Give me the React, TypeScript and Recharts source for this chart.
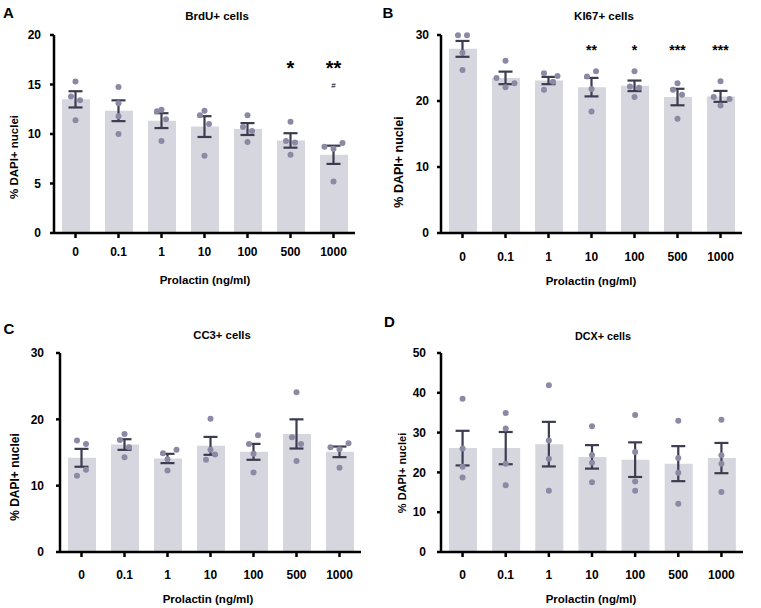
import React from "react";
import { ComposedChart, Bar, Scatter, XAxis, YAxis, ErrorBar } from "recharts";

// ---------- data ----------
const categories = ["0", "0.1", "1", "10", "100", "500", "1000"];

// A: BrdU+
const brduMean = [13.5, 12.35, 11.35, 10.75, 10.5, 9.35, 7.9];
const brduSem = [0.82, 1.05, 0.75, 1.05, 0.6, 0.73, 0.92];
const brduPoints = [
  [15.3, 13.8, 13.4, 11.4],
  [14.75, 13.1, 11.8, 10.0],
  [12.45, 12.3, 11.5, 9.3],
  [12.35, 11.9, 11.0, 7.8],
  [11.9, 10.7, 10.3, 9.2],
  [11.25, 9.3, 9.15, 7.9],
  [8.7, 9.1, 8.5, 5.2],
];
const brduJitter = [
  [0, -1, 1, 0],
  [0, 0, 0, 0],
  [0, -1, 1, 0],
  [0, -1, 1, 0],
  [0, -1, 1, 0],
  [0, -1, 1, 0],
  [-2, 2, 0, 0],
];
const brduStars = ["", "", "", "", "", "*", "**"];
const brduHash = ["", "", "", "", "", "", "#"];

// B: KI67+
const ki67Mean = [27.9, 23.5, 23.1, 22.1, 22.3, 20.6, 20.7];
const ki67Sem = [1.2, 0.95, 0.55, 1.4, 0.8, 1.25, 0.83];
const ki67Points = [
  [29.95, 29.95, 27.3, 24.7],
  [26.1, 23.5, 22.7, 22.1],
  [24.2, 23.8, 22.9, 21.7],
  [24.5, 23.7, 21.8, 18.4],
  [24.5, 22.2, 22.0, 20.6],
  [22.7, 21.7, 20.95, 17.3],
  [23.0, 20.6, 20.3, 19.3],
];
const ki67Jitter = [
  [-1, 1, 0, 0],
  [0, -2, 2, 0],
  [-1, 2, 1, -1],
  [1, -1, 0, 0],
  [0, -1, 1, 0],
  [0, -1, 1, 0],
  [0, -1.5, 2, 0],
];
const ki67Stars = ["", "", "", "**", "*", "***", "***"];

// C: CC3+
const cc3Mean = [14.2, 16.2, 14.1, 16.0, 15.1, 17.8, 15.1];
const cc3Sem = [1.35, 0.8, 0.7, 1.35, 1.2, 2.2, 0.8];
const cc3Points = [
  [16.8, 16.3, 12.4, 11.5],
  [17.8, 16.9, 15.8, 14.3],
  [14.9, 15.4, 14.0, 12.3],
  [20.1, 15.4, 14.7, 13.9],
  [17.6, 16.3, 14.8, 12.0],
  [24.1, 17.3, 16.3, 13.7],
  [15.8, 16.4, 15.5, 12.7],
];
const cc3Jitter = [
  [-1, 1, 1, -1],
  [0, -1, 1, 0],
  [-1, 2, 0, 0],
  [0, 0, 1, -1],
  [1, -1, 0, 0],
  [0, -1, 1, 0],
  [-2, 2, 0, 0],
];

// D: DCX+
const dcxMean = [26.1, 26.1, 27.1, 23.9, 23.2, 22.2, 23.6];
const dcxSem = [4.35, 4.05, 5.6, 2.95, 4.35, 4.4, 3.8];
const dcxPoints = [
  [38.5, 26.0, 21.4, 18.7],
  [34.9, 31.0, 22.2, 16.8],
  [41.9, 28.0, 23.4, 15.4],
  [31.6, 24.4, 22.4, 17.5],
  [34.4, 25.1, 17.7, 15.4],
  [33.0, 23.6, 19.9, 12.1],
  [33.2, 24.3, 22.2, 15.1],
];
const dcxJitter = [
  [0, 0, 0, 0],
  [0, 0, 0, 0],
  [0, 0, 0, 0],
  [0, 0, 0, 0],
  [0, 0, 0, 0],
  [0, 0, 0, 0],
  [0, 0, 0, 0],
];

// ---------- styles ----------
const FONT = "'Liberation Sans', Arial, Helvetica, sans-serif";
const BAR = "#d6d6df";
const DOT = "#8c89a5";
const ERR = "#3c3c50";
const JIT = 0.105;

const axisLine = { stroke: "#000", strokeWidth: 2.5 };
const tickStyle = { fill: "#000", fontSize: 12, fontWeight: 700, fontFamily: FONT };

type Mark = { labels: string[]; level: number; fontSize: number; weight: number; shift: number };

type PanelProps = {
  left: number;
  top: number;
  width: number;
  height: number;
  plotTop: number;
  right: number;
  bottom: number;
  yAxisWidth: number;
  xTickMargin: number;
  yTickMargin: number;
  yMax: number;
  yTicks: number[];
  mean: number[];
  sem: number[];
  points: number[][];
  jitter: number[][];
  marks?: Mark[];
};

const DotShape = (props: any) => <circle cx={props.cx} cy={props.cy} r={3} fill={DOT} />;
const EmptyShape = () => <g />;
const MarkShape = (props: any) => {
  const d = props.payload || props;
  return (
    <text
      x={props.cx}
      y={props.cy + d.fs * d.shift}
      textAnchor="middle"
      fontSize={d.fs}
      fontWeight={d.fw}
      fontFamily={FONT}
      fill="#000"
    >
      {d.t}
    </text>
  );
};

function Panel(p: PanelProps) {
  const rows = categories.map((c, i) => ({ cat: c, mean: p.mean[i] }));
  const errRows = categories.map((_, i) => ({ x: i, y: p.mean[i], sem: p.sem[i] }));
  const dots = p.points.flatMap((vals, i) =>
    vals.map((v, j) => ({ x: i + p.jitter[i][j] * JIT, y: v }))
  );
  const marks: any[] = [];
  (p.marks || []).forEach((m) =>
    m.labels.forEach((t, i) => {
      if (t) marks.push({ x: i, y: m.level, t, fs: m.fontSize, fw: m.weight, shift: m.shift });
    })
  );
  return (
    <div style={{ position: "absolute", left: p.left, top: p.top, width: p.width, height: p.height }}>
      <ComposedChart
        width={p.width}
        height={p.height}
        data={rows}
        margin={{ top: p.plotTop, right: p.right, bottom: p.bottom, left: 0 }}
      >
        <XAxis
          xAxisId="cat"
          dataKey="cat"
          type="category"
          interval={0}
          height={30}
          tickSize={5}
          tickMargin={p.xTickMargin}
          axisLine={axisLine}
          tickLine={axisLine}
          tick={tickStyle}
        />
        <XAxis xAxisId="num" dataKey="x" type="number" domain={[-0.5, 6.5]} hide />
        <YAxis
          type="number"
          domain={[0, p.yMax]}
          ticks={p.yTicks}
          interval={0}
          width={p.yAxisWidth}
          tickSize={4}
          tickMargin={p.yTickMargin}
          axisLine={axisLine}
          tickLine={axisLine}
          tick={tickStyle}
        />
        <Bar xAxisId="cat" dataKey="mean" fill={BAR} barSize={28} isAnimationActive={false} />
        <Scatter xAxisId="num" data={dots} dataKey="y" shape={DotShape} isAnimationActive={false} />
        <Scatter xAxisId="num" data={errRows} dataKey="y" shape={EmptyShape} isAnimationActive={false}>
          <ErrorBar dataKey="sem" direction="y" width={7} stroke={ERR} strokeWidth={2.2} isAnimationActive={false} />
        </Scatter>
        {marks.length > 0 && (
          <Scatter xAxisId="num" data={marks} dataKey="y" shape={MarkShape} isAnimationActive={false} />
        )}
      </ComposedChart>
    </div>
  );
}

function Txt(props: { x: number; y: number; size: number; text: string; rotate?: boolean; weight?: number }) {
  return (
    <div
      style={{
        position: "absolute",
        left: props.x,
        top: props.y,
        transform: `translate(-50%, -50%)${props.rotate ? " rotate(-90deg)" : ""}`,
        fontSize: props.size,
        lineHeight: 1,
        fontWeight: props.weight ?? 700,
        fontFamily: FONT,
        whiteSpace: "nowrap",
        color: "#000",
      }}
    >
      {props.text}
    </div>
  );
}

export default function App() {
  return (
    <div style={{ position: "absolute", left: 0, top: 0, width: 761, height: 608, background: "#fff", overflow: "hidden" }}>
      <Panel
        left={0}
        top={0}
        width={380}
        height={300}
        plotTop={35}
        right={25}
        bottom={37}
        yAxisWidth={54}
        xTickMargin={9}
        yTickMargin={9}
        yMax={20}
        yTicks={[0, 5, 10, 15, 20]}
        mean={brduMean}
        sem={brduSem}
        points={brduPoints}
        jitter={brduJitter}
        marks={[
          { labels: brduStars, level: 17.2, fontSize: 20, weight: 700, shift: 0.6 },
          { labels: brduHash, level: 14.95, fontSize: 8, weight: 400, shift: 0.36 },
        ]}
      />
      <Panel
        left={380}
        top={0}
        width={381}
        height={300}
        plotTop={35}
        right={19}
        bottom={37}
        yAxisWidth={61}
        xTickMargin={14}
        yTickMargin={8}
        yMax={30}
        yTicks={[0, 10, 20, 30]}
        mean={ki67Mean}
        sem={ki67Sem}
        points={ki67Points}
        jitter={ki67Jitter}
        marks={[{ labels: ki67Stars, level: 28.3, fontSize: 14, weight: 700, shift: 0.6 }]}
      />
      <Panel
        left={0}
        top={300}
        width={380}
        height={308}
        plotTop={53}
        right={19}
        bottom={26}
        yAxisWidth={60}
        xTickMargin={13}
        yTickMargin={12}
        yMax={30}
        yTicks={[0, 10, 20, 30]}
        mean={cc3Mean}
        sem={cc3Sem}
        points={cc3Points}
        jitter={cc3Jitter}
      />
      <Panel
        left={380}
        top={300}
        width={381}
        height={308}
        plotTop={53}
        right={18}
        bottom={26}
        yAxisWidth={61}
        xTickMargin={13}
        yTickMargin={11}
        yMax={50}
        yTicks={[0, 10, 20, 30, 40, 50]}
        mean={dcxMean}
        sem={dcxSem}
        points={dcxPoints}
        jitter={dcxJitter}
      />

      {/* panel letters */}
      <Txt x={8.5} y={11.5} size={15} text="A" />
      <Txt x={388} y={11.5} size={15} text="B" />
      <Txt x={9} y={328} size={15} text="C" />
      <Txt x={389.5} y={321} size={15} text="D" />

      {/* titles */}
      <Txt x={217} y={17} size={11.5} text="BrdU+ cells" />
      <Txt x={604} y={17} size={11.5} text="KI67+ cells" />
      <Txt x={222} y={336} size={11.3} text="CC3+ cells" />
      <Txt x={603} y={336} size={10.8} text="DCX+ cells" />

      {/* y labels */}
      <Txt x={15} y={157} size={11.5} rotate text="% DAPI+ nuclei" />
      <Txt x={399} y={162} size={12.5} rotate text="% DAPI+ nuclei" />
      <Txt x={15} y={477} size={12} rotate text="% DAPI+ nuclei" />
      <Txt x={402} y={473} size={11} rotate text="% DAPI+ nuclei" />

      {/* x labels */}
      <Txt x={205} y={281} size={11.5} text="Prolactin (ng/ml)" />
      <Txt x={591} y={282} size={11.5} text="Prolactin (ng/ml)" />
      <Txt x={208} y={600} size={11.5} text="Prolactin (ng/ml)" />
      <Txt x={591} y={600} size={11.5} text="Prolactin (ng/ml)" />
    </div>
  );
}
